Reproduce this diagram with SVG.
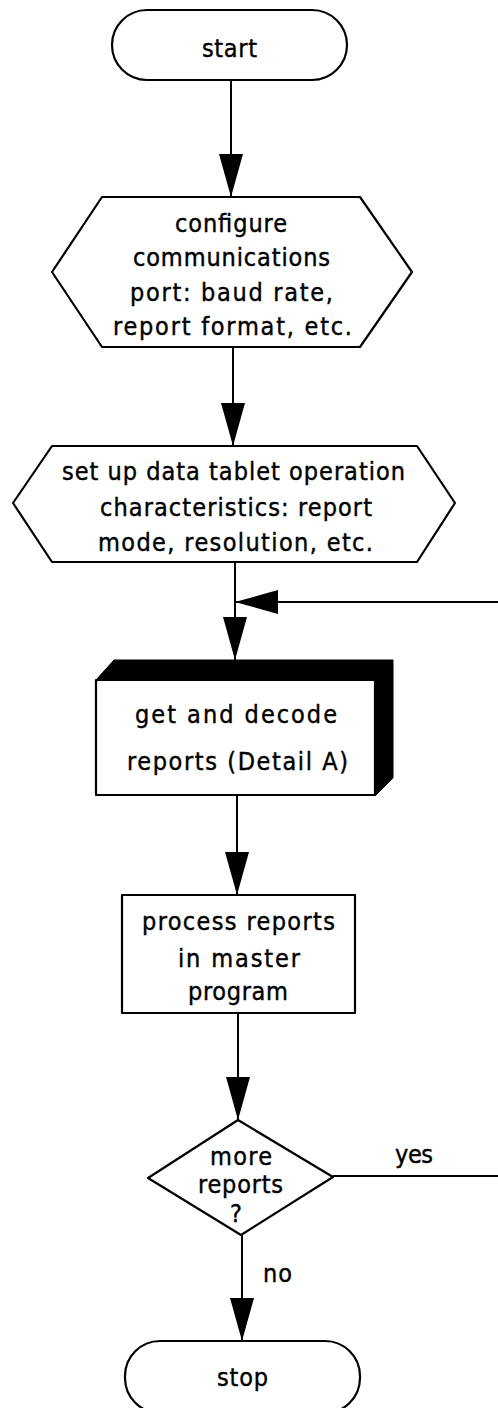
<svg xmlns="http://www.w3.org/2000/svg" width="498" height="1408" viewBox="0 0 498 1408">
<style>
.s{fill:#fff;stroke:#000;stroke-width:2.2;stroke-linejoin:round}
.t{font-family:"DejaVu Sans Condensed","DejaVu Sans","Liberation Sans",sans-serif;font-stretch:condensed;font-size:25px;fill:#000;stroke:#000;stroke-width:0.4}
.c{fill:none;stroke:#000;stroke-width:2;marker-end:url(#ah)}
</style>
<defs>
<marker id="ah" markerUnits="userSpaceOnUse" markerWidth="43" markerHeight="24" refX="43" refY="12" orient="auto" viewBox="0 0 43 24">
<path d="M0,0 L43,12 L0,24 Z" fill="#000"/>
</marker>
</defs>
<rect width="498" height="1408" fill="#fff"/>
<g id="connectors">
<path class="c" d="M231,80 V197"/>
<path class="c" d="M233,347 V446"/>
<path class="c" d="M235,562 V660"/>
<path class="c" d="M333,1176 H506 V602 H235"/>
<path class="c" d="M237,795 V895"/>
<path class="c" d="M238,1013 V1120"/>
<path class="c" d="M242,1235 V1341"/>
</g>
<g id="start">
<rect class="s" x="112" y="10" width="235" height="70" rx="35"/>
<text class="t" x="202" y="57" textLength="55" lengthAdjust="spacing">start</text>
</g>
<g id="configure">
<polygon class="s" points="102,197 360,197 412,272 360,347 102,347 52,272"/>
<text class="t" x="175" y="232" textLength="112" lengthAdjust="spacing">configure</text>
<text class="t" x="133" y="266" textLength="197" lengthAdjust="spacing">communications</text>
<text class="t" x="130" y="301" textLength="203" lengthAdjust="spacing">port: baud rate,</text>
<text class="t" x="113" y="335" textLength="239" lengthAdjust="spacing">report format, etc.</text>
</g>
<g id="setup">
<polygon class="s" points="52,446 417,446 455,503 417,562 52,562 13,503"/>
<text class="t" x="62" y="480" textLength="343" lengthAdjust="spacing">set up data tablet operation</text>
<text class="t" x="100" y="516" textLength="272" lengthAdjust="spacing">characteristics: report</text>
<text class="t" x="98" y="551" textLength="275" lengthAdjust="spacing">mode, resolution, etc.</text>
</g>
<g id="getdecode">
<polygon points="96,680 114,660 393,660 393,778 375,796 375,680" fill="#000" stroke="#000" stroke-width="1"/>
<rect class="s" x="96" y="680" width="279" height="115"/>
<text class="t" x="135" y="723" textLength="202" lengthAdjust="spacing">get and decode</text>
<text class="t" x="127" y="770" textLength="221" lengthAdjust="spacing">reports (Detail A)</text>
</g>
<g id="process">
<rect class="s" x="122" y="895" width="233" height="118"/>
<text class="t" x="142" y="930" textLength="193" lengthAdjust="spacing">process reports</text>
<text class="t" x="178" y="967" textLength="122" lengthAdjust="spacing">in master</text>
<text class="t" x="188" y="1000" textLength="100" lengthAdjust="spacing">program</text>
</g>
<g id="more">
<polygon class="s" points="238,1120 333,1177 241,1235 148,1178"/>
<text class="t" x="210" y="1165" textLength="62" lengthAdjust="spacing">more</text>
<text class="t" x="198" y="1193" textLength="85" lengthAdjust="spacing">reports</text>
<text class="t" x="230" y="1222">?</text>
</g>
<g id="labels">
<text class="t" x="395" y="1163" textLength="38" lengthAdjust="spacing">yes</text>
<text class="t" x="263" y="1282" textLength="29" lengthAdjust="spacing">no</text>
</g>
<g id="stop">
<rect class="s" x="125" y="1341" width="235" height="72" rx="35"/>
<text class="t" x="217" y="1386" textLength="51" lengthAdjust="spacing">stop</text>
</g>
</svg>
